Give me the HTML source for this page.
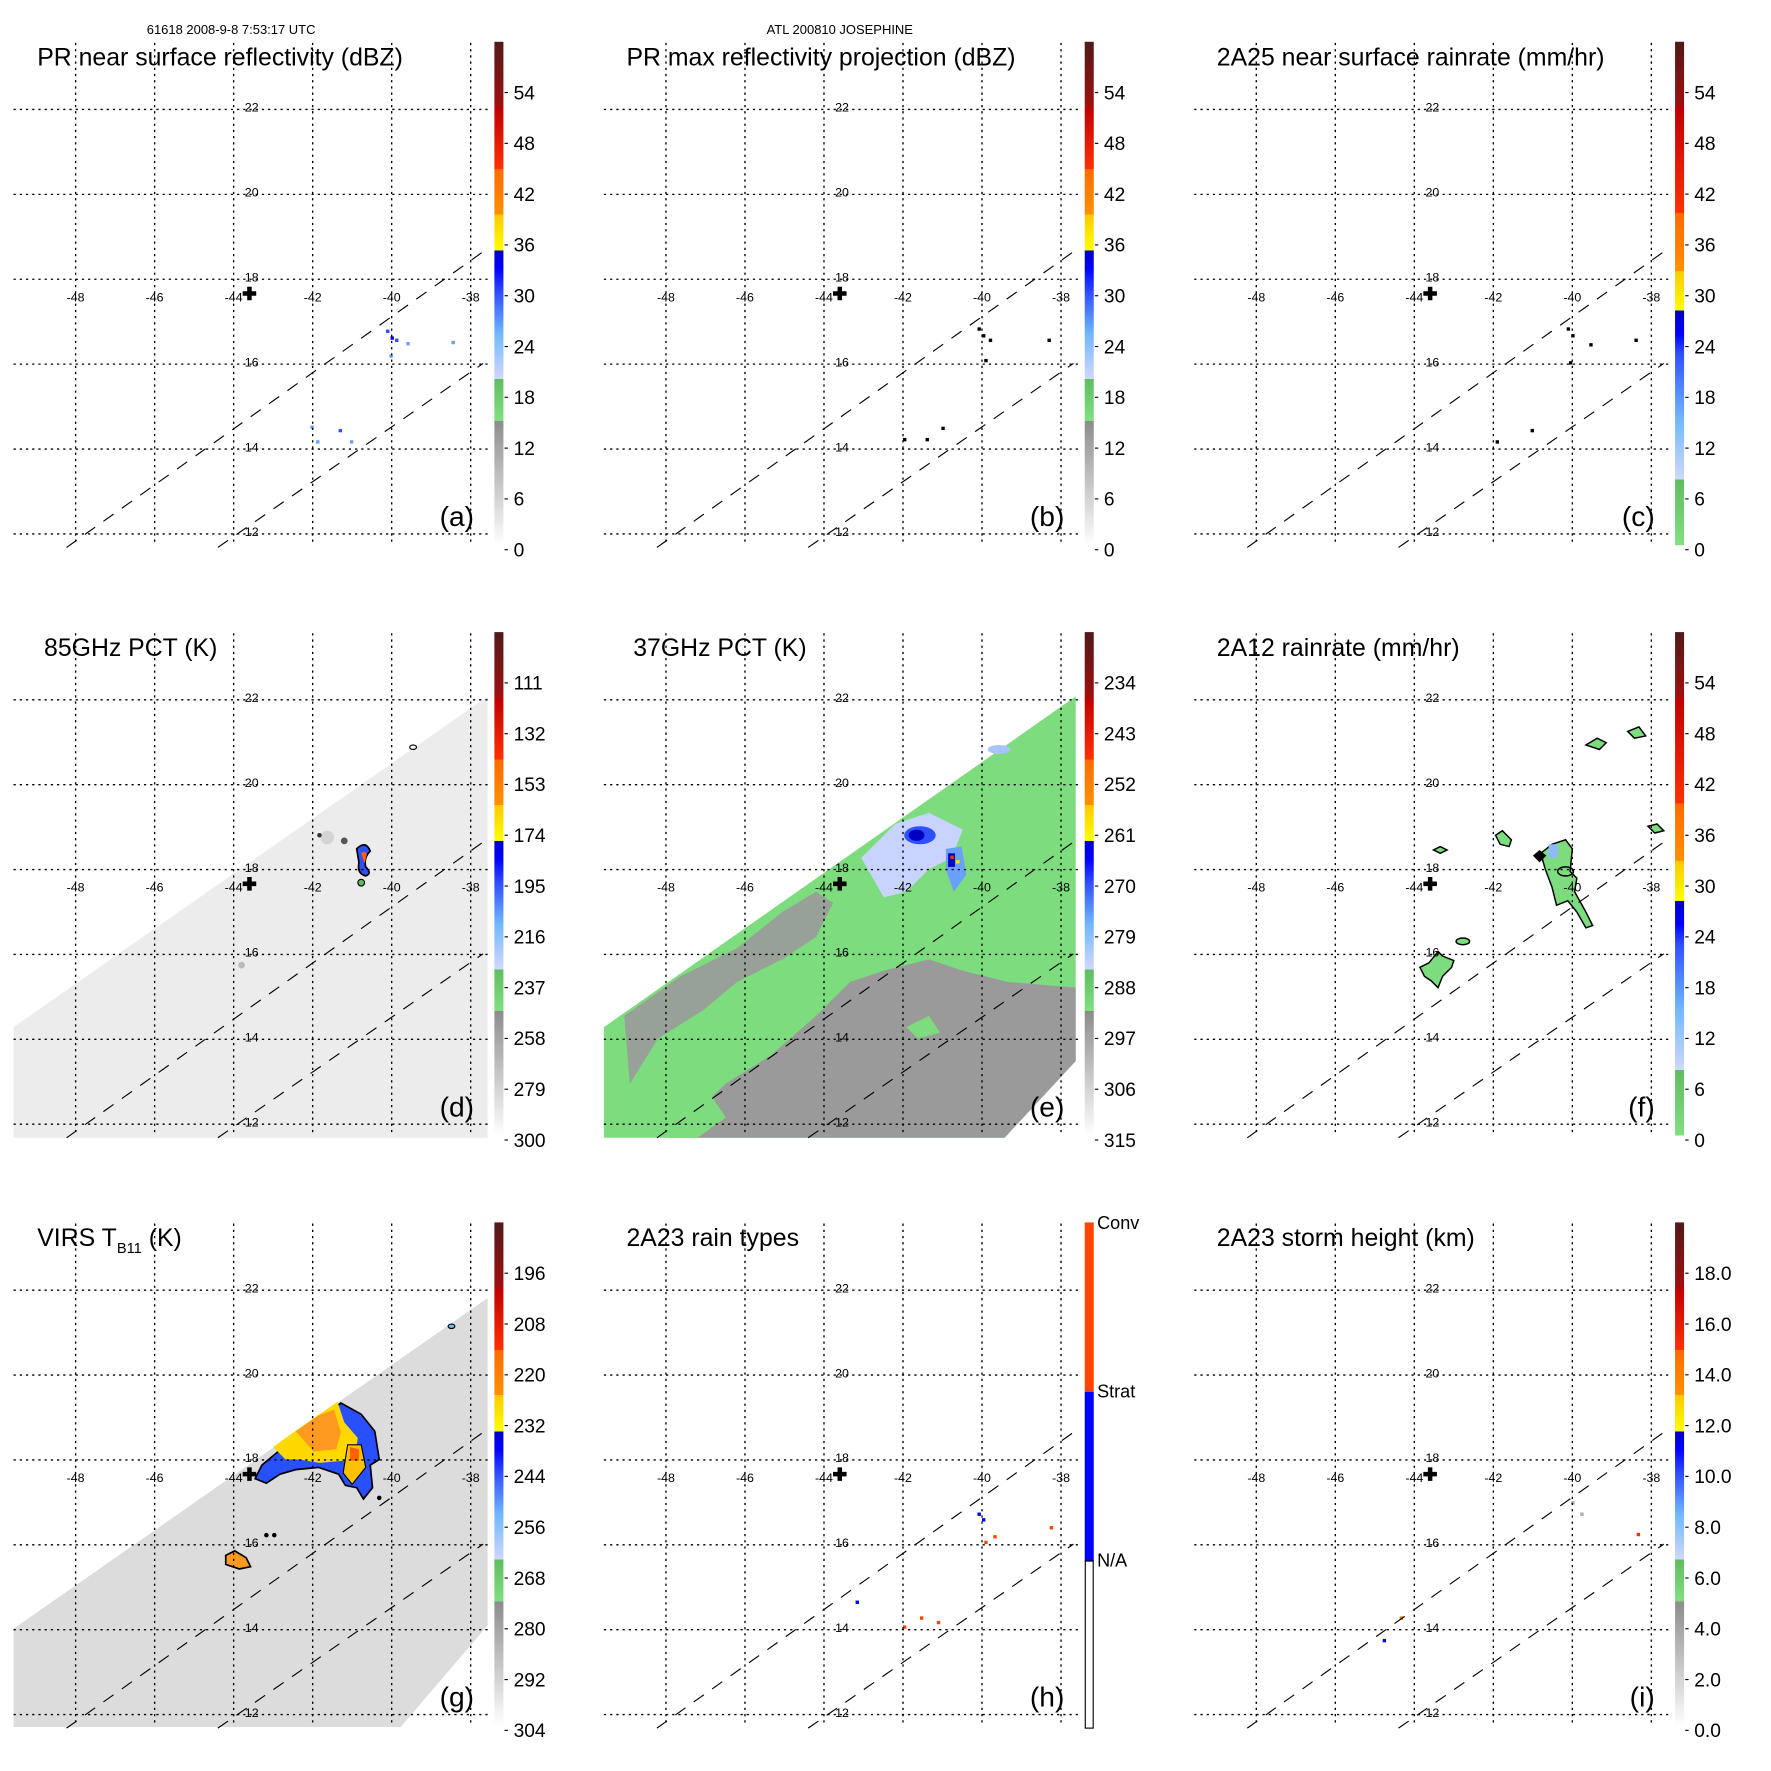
<!DOCTYPE html>
<html><head><meta charset="utf-8"><style>
html,body{margin:0;padding:0;background:#fff}
svg{display:block}
text{font-family:"Liberation Sans",Arial,sans-serif;fill:#000}
</style></head><body>
<svg id="s" xmlns="http://www.w3.org/2000/svg" width="1771" height="1771" viewBox="0 0 1569 1569">
<defs>
<linearGradient id="gStd" x1="0" y1="1" x2="0" y2="0">
<stop offset="0" stop-color="#ffffff"/><stop offset="0.247" stop-color="#8c8c8c"/>
<stop offset="0.247" stop-color="#80e080"/><stop offset="0.33" stop-color="#60bc60"/>
<stop offset="0.33" stop-color="#d0d8ff"/><stop offset="0.42" stop-color="#70b8ff"/><stop offset="0.5" stop-color="#3050ff"/><stop offset="0.55" stop-color="#0000ff"/><stop offset="0.585" stop-color="#0000c0"/>
<stop offset="0.585" stop-color="#ffff00"/><stop offset="0.657" stop-color="#ffc800"/>
<stop offset="0.657" stop-color="#ff9000"/><stop offset="0.747" stop-color="#ff6a00"/>
<stop offset="0.747" stop-color="#ff3000"/><stop offset="0.87" stop-color="#c00000"/>
<stop offset="0.87" stop-color="#a01010"/><stop offset="1" stop-color="#4f1a18"/>
</linearGradient>
<linearGradient id="gRain" x1="0" y1="1" x2="0" y2="0">
<stop offset="0" stop-color="#80e080"/><stop offset="0.13" stop-color="#60bc60"/>
<stop offset="0.13" stop-color="#d0d8ff"/><stop offset="0.25" stop-color="#70b8ff"/><stop offset="0.38" stop-color="#3050ff"/><stop offset="0.42" stop-color="#0000ff"/><stop offset="0.466" stop-color="#0000c0"/>
<stop offset="0.466" stop-color="#ffff00"/><stop offset="0.545" stop-color="#ffc800"/>
<stop offset="0.545" stop-color="#ff9000"/><stop offset="0.66" stop-color="#ff6a00"/>
<stop offset="0.66" stop-color="#ff3000"/><stop offset="0.87" stop-color="#c00000"/>
<stop offset="0.87" stop-color="#a01010"/><stop offset="1" stop-color="#4f1a18"/>
</linearGradient>
</defs>
<g id="g"></g>
</svg>
<script>
var out=[];
function add(s){out.push(s);}
add('<text x="130" y="30" font-size="11.5">61618 2008-9-8 7:53:17 UTC</text>');
add('<text x="744" y="30" font-size="11.5" text-anchor="middle">ATL 200810 JOSEPHINE</text>');
var titles=[["PR near surface reflectivity (dBZ)",33],["PR max reflectivity projection (dBZ)",555],["2A25 near surface rainrate (mm/hr)",1078],
["85GHz PCT (K)",39],["37GHz PCT (K)",561],["2A12 rainrate (mm/hr)",1078],
[null,33],["2A23 rain types",555],["2A23 storm height (km)",1078]];
var letters="abcdefghi";
var labels=[["54","48","42","36","30","24","18","12","6","0"],["54","48","42","36","30","24","18","12","6","0"],["54","48","42","36","30","24","18","12","6","0"],
["111","132","153","174","195","216","237","258","279","300"],["234","243","252","261","270","279","288","297","306","315"],["54","48","42","36","30","24","18","12","6","0"],
["196","208","220","232","244","256","268","280","292","304"],null,["18.0","16.0","14.0","12.0","10.0","8.0","6.0","4.0","2.0","0.0"]];
function P(pts,ox,oy){return pts.map(function(p){return (p[0]+ox)+","+(p[1]+oy)}).join(" ");}
for(var i=0;i<9;i++){
 var ox=(i%3)*523, oy=Math.floor(i/3)*523;
 if(i==3){add('<polygon points="'+P([[12,910],[432,617],[432,1008],[12,1008]],ox,0)+'" fill="#ececec"/>');
  add('<circle cx="290" cy="742" r="6" fill="#d4d4d4"/><circle cx="305" cy="745" r="3" fill="#555"/><circle cx="283" cy="740" r="2" fill="#333"/><circle cx="214" cy="855" r="3" fill="#bbb"/>');
  add('<path d="M316,752 q8,-8 12,2 q-6,6 -4,14 q6,6 0,8 q-8,-2 -6,-12 z" fill="#3050ff" stroke="#000" stroke-width="1.5"/><path d="M320,756 q3,-3 5,1 l-2,8 z" fill="#ff6000"/><circle cx="320" cy="782" r="3" fill="#60bc60" stroke="#000"/><ellipse cx="366" cy="662" rx="3" ry="2" fill="none" stroke="#000"/>');}
 if(i==4){add('<polygon points="'+P([[12,910],[430,617],[430,940],[367,1008],[12,1008]],ox,0)+'" fill="#7ddc7d"/>');
  add('<polygon points="'+P([[70,1008],[120,960],[160,935],[200,900],[230,870],[260,860],[300,850],[330,860],[370,870],[430,875],[430,940],[367,1008]],ox,0)+'" fill="#9a9a9a"/>');
  add('<polygon points="'+P([[30,900],[80,865],[130,840],[170,808],[200,790],[215,800],[200,830],[170,850],[130,870],[100,895],[60,920],[35,960]],ox,0)+'" fill="#9a9a9a" opacity="0.9"/>');
  add('<polygon points="'+P([[75,985],[100,960],[120,990],[95,1008],[70,1008]],ox,0)+'" fill="#7ddc7d"/><polygon points="'+P([[280,910],[300,900],[310,915],[290,920]],ox,0)+'" fill="#7ddc7d"/>');
  add('<polygon points="'+P([[240,760],[270,730],[300,720],[330,735],[320,760],[300,770],[280,790],[260,795]],ox,0)+'" fill="#c8d4ff"/>');
  add('<ellipse cx="815" cy="740" rx="14" ry="8" fill="#3050ff"/><ellipse cx="812" cy="740" rx="7" ry="5" fill="#0000c0"/><polygon points="838,752 852,750 856,775 845,790 838,770" fill="#6aa0ff"/><rect x="840" y="756" width="6" height="12" fill="#0000c0"/><rect x="842" y="758" width="3" height="3" fill="#ff3000"/><rect x="847" y="762" width="3" height="3" fill="#ffe000"/><ellipse cx="885" cy="664" rx="10" ry="4" fill="#a8c4ff"/>');}
 if(i==5){add('<g fill="#7ddc7d" stroke="#000" stroke-width="1.3">'+
  '<path d="M1365,756 l10,-8 l12,-4 l6,8 l-2,20 l6,6 l-2,12 l10,18 l6,12 l-6,2 l-8,-14 l-8,-10 l-10,4 l-4,-16 l-6,-16 z"/>'+
  '<path d="M1258,857 l8,-4 l8,-10 l4,4 l10,4 l-2,6 l-8,8 l-4,10 l-6,-6 l-6,-4 z"/>'+
  '<path d="M1325,740 l6,-4 l8,8 l-2,6 l-8,-2 z"/><path d="M1405,660 l10,-6 l8,4 l-6,6 z"/><path d="M1442,648 l10,-4 l6,8 l-10,2 z"/><path d="M1460,732 l8,-2 l6,6 l-8,2 z"/><path d="M1270,753 l6,-3 l6,3 l-6,3 z"/><ellipse cx="1296" cy="834" rx="6" ry="3"/></g>');
  add('<rect x="1372" y="748" width="8" height="12" fill="#90b8ff"/><path d="M1358,758 l6,-5 l6,5 l-6,6 z" fill="#000"/><ellipse cx="1387" cy="772" rx="7" ry="4" fill="none" stroke="#000" stroke-width="1.3"/>');}
 if(i==6){add('<polygon points="'+P([[12,1443],[432,1150],[432,1440],[355,1530],[12,1530]],ox,0)+'" fill="#dcdcdc"/>');
  add('<path d="M232,1298 l30,-25 l40,-30 l18,10 l12,15 l4,25 l-8,5 l2,20 l-8,10 l-6,-10 l-10,-2 l-6,-10 l-18,-6 l-20,2 l-14,4 l-12,8 l-10,-4 z" fill="#2850ff" stroke="#000" stroke-width="1.5"/>');
  add('<path d="M242,1282 l25,-18 l32,-22 l6,18 l12,14 l-2,12 l-10,8 l-22,2 l-18,-3 l-12,0 z" fill="#ffd800"/><path d="M262,1268 l20,-14 l14,-5 l6,20 l-4,15 l-20,2 z" fill="#ff9a20"/><path d="M308,1280 l12,0 l4,20 l-12,15 l-8,-10 z" fill="#ffc000" stroke="#000"/><path d="M310,1282 l8,2 l0,10 l-8,0 z" fill="#ff6000"/>');
  add('<path d="M200,1378 l8,-4 l10,6 l4,8 l-10,2 l-12,-4 z" fill="#ff9a20" stroke="#000" stroke-width="1.5"/><circle cx="236" cy="1360" r="2" fill="#000"/><circle cx="243" cy="1360" r="2" fill="#000"/><circle cx="336" cy="1327" r="2" fill="#000"/><ellipse cx="400" cy="1175" rx="3" ry="2" fill="#70b8ff" stroke="#000"/>');}
 var dots={0:[[342,292,"#3050ff"],[346,298,"#0000ff"],[350,300,"#3050ff"],[345,314,"#6aa0ff"],[360,303,"#6aa0ff"],[400,302,"#6aa0ff"],[275,377,"#6aa0ff"],[300,380,"#3050ff"],[310,390,"#6aa0ff"],[280,390,"#6aa0ff"]],
 1:[[866,290,"#000"],[870,296,"#000"],[876,300,"#000"],[872,318,"#000"],[928,300,"#000"],[800,388,"#000"],[820,388,"#000"],[834,378,"#000"]],
 2:[[1388,290,"#000"],[1392,296,"#000"],[1408,304,"#000"],[1390,320,"#000"],[1448,300,"#000"],[1325,390,"#000"],[1356,380,"#000"]],
 7:[[866,1340,"#0000ff"],[870,1345,"#0000ff"],[880,1360,"#ff4500"],[872,1365,"#ff4500"],[930,1352,"#ff4500"],[830,1436,"#ff4500"],[815,1432,"#ff4500"],[800,1440,"#ff4500"],[758,1418,"#0000ff"]],
 8:[[1392,1330,"#aaa"],[1400,1340,"#aaa"],[1450,1358,"#ff3000"],[1240,1432,"#ff8000"],[1225,1452,"#0000ff"]]};
 if(dots[i])dots[i].forEach(function(d){add('<rect x="'+d[0]+'" y="'+(d[1])+'" width="3" height="3" fill="'+d[2]+'"/>');});
 var g='';
 for(var k=0;k<6;k++){var x=ox+67+70*k; g+='<line x1="'+x+'" y1="'+(oy+38)+'" x2="'+x+'" y2="'+(oy+483)+'"/>';}
 for(var k=0;k<6;k++){var y=oy+97+75.2*k; g+='<line x1="'+(ox+12)+'" y1="'+y+'" x2="'+(ox+432)+'" y2="'+y+'"/>';}
 add('<g stroke="#000" stroke-width="1.2" stroke-dasharray="2,3.5">'+g+'</g>');
 add('<g stroke="#000" stroke-width="1" stroke-dasharray="11,9" fill="none"><line x1="'+(ox+59)+'" y1="'+(oy+485)+'" x2="'+(ox+428)+'" y2="'+(oy+223)+'"/><line x1="'+(ox+193)+'" y1="'+(oy+485)+'" x2="'+(ox+428)+'" y2="'+(oy+322)+'"/></g>');
 var t='';
 ["-48","-46","-44","-42","-40","-38"].forEach(function(s,k){t+='<text x="'+(ox+67+70*k)+'" y="'+(oy+267)+'" text-anchor="middle">'+s+'</text>';});
 ["22","20","18","16","14","12"].forEach(function(s,k){t+='<text x="'+(ox+223)+'" y="'+(oy+99+75.2*k)+'" text-anchor="middle">'+s+'</text>';});
 add('<g font-size="11">'+t+'</g>');
 add('<path d="M'+(ox+219)+','+(oy+254)+'h4v4h4v4h-4v4h-4v-4h-4v-4h4z" fill="#000"/>');
 if(titles[i][0])add('<text x="'+titles[i][1]+'" y="'+(oy+58)+'" font-size="22">'+titles[i][0]+'</text>');
 else add('<text x="33" y="'+(oy+58)+'" font-size="22">VIRS T<tspan font-size="13" dy="6">B11</tspan><tspan dy="-6"> (K)</tspan></text>');
 add('<text x="'+(ox+420)+'" y="'+(oy+466)+'" font-size="25" text-anchor="end">('+letters[i]+')</text>');
 if(i==7){
  add('<rect x="961" y="'+(oy+37)+'" width="8" height="150" fill="#ff4500"/><rect x="961" y="'+(oy+187)+'" width="8" height="150" fill="#0000ff"/><rect x="961.5" y="'+(oy+337)+'" width="7" height="148" fill="#fff" stroke="#000"/>');
  add('<text x="972" y="'+(oy+43)+'" font-size="16">Conv</text><text x="972" y="'+(oy+192)+'" font-size="16">Strat</text><text x="972" y="'+(oy+342)+'" font-size="16">N/A</text>');
 } else {
  var grad=(i==2||i==5)?'gRain':'gStd';
  add('<rect x="'+(ox+438)+'" y="'+(oy+37)+'" width="8" height="446" fill="url(#'+grad+')"/>');
  var L=labels[i], tt='';
  L.forEach(function(s,k){var y=oy+82+45*k; tt+='<text x="'+(ox+455)+'" y="'+(y+6)+'">'+s+'</text><line x1="'+(ox+447)+'" y1="'+y+'" x2="'+(ox+450)+'" y2="'+y+'" stroke="#000"/>';});
  add('<g font-size="17">'+tt+'</g>');
 }
}
document.getElementById('g').innerHTML=out.join('');
</script>
</body></html>
